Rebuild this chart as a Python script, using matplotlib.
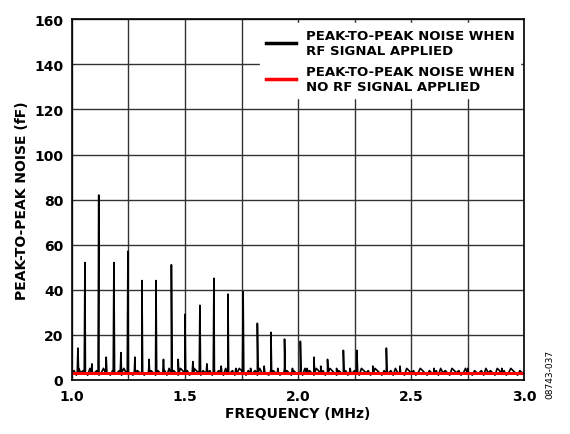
import matplotlib
matplotlib.use("Agg")
import matplotlib.pyplot as plt
import numpy as np

# big spikes (MHz, fF)
spike_f = [1.058,1.119,1.186,1.248,1.31,1.372,1.44,1.5,1.566,1.628,1.69,1.757,1.82,1.88,1.94,2.01,2.07,2.13,2.2,2.26,2.39]
spike_h = [52,82,52,57,44,44,51,29,33,45,38,39,25,21,18,17,10,9,13,13,14]
# small interleaved spikes
small_f = [1.027,1.089,1.152,1.217,1.279,1.341,1.405,1.47,1.535,1.597,1.66,1.725,1.79,1.85,1.91,1.975,2.04,2.10,2.17,2.23,2.33,2.45,2.6,2.75,2.9]
small_h = [14,7,10,12,10,9,9,9,8,7,6,5,5,6,5,5,5,6,5,5,6,6,5,5,5]
# baseline noise samples
base_f = np.round(np.arange(1.0, 3.0001, 0.01), 3).tolist()
base_v = [3,4,2,5,3,4,3,2,5,4,3,4,2,3,5,4,3,2,4,3]
no_rf_f = [1.0, 3.0]
no_rf_v = [3, 3]

pts = [(f, base_v[i % len(base_v)]) for i, f in enumerate(base_f)]
for f, h in zip(spike_f + small_f, spike_h + small_h):
    pts += [(f - 0.003, 3), (f, h), (f + 0.003, 3)]
pts.sort()
x = [p[0] for p in pts]; y = [p[1] for p in pts]

fig = plt.figure(figsize=(5.7, 4.35), dpi=100)
ax = fig.add_axes([0.126, 0.125, 0.794, 0.828])
ax.plot(x, y, color='black', lw=1.2, label='PEAK-TO-PEAK NOISE WHEN\nRF SIGNAL APPLIED')
ax.plot(no_rf_f, no_rf_v, color='#ff0000', lw=2.2, label='PEAK-TO-PEAK NOISE WHEN\nNO RF SIGNAL APPLIED')
ax.set_xlim(1.0, 3.0); ax.set_ylim(0, 160)
ax.set_xticks([1.0,1.5,2.0,2.5,3.0])
ax.set_xticks(np.arange(1.0, 3.01, 0.25), minor=True)
ax.set_yticks(range(0, 161, 20))
ax.grid(True, which='both', axis='x', color='#333333', lw=1)
ax.grid(True, which='major', axis='y', color='#333333', lw=1)
ax.tick_params(which='both', length=0, labelsize=10)
ax.tick_params(axis='x', pad=7)
ax.tick_params(axis='y', pad=6)
for l in ax.get_xticklabels() + ax.get_yticklabels():
    l.set_fontweight('bold')
for s in ax.spines.values():
    s.set_linewidth(1.2)
ax.set_xlabel('FREQUENCY (MHz)', fontweight='bold', fontsize=10, labelpad=2)
ax.set_ylabel('PEAK-TO-PEAK NOISE (fF)', fontweight='bold', fontsize=10)
leg = ax.legend(loc='upper right', frameon=True, fancybox=False, edgecolor='white',
                framealpha=1, prop={'weight': 'bold', 'size': 9.5}, handlelength=2.3,
                borderaxespad=0.3, labelspacing=0.6)
for h in leg.legend_handles:
    h.set_linewidth(2.5)
fig.text(0.965, 0.14, '08743-037', rotation=90, fontsize=6.5, ha='center', va='center')
fig.savefig('out.png', dpi=100)
